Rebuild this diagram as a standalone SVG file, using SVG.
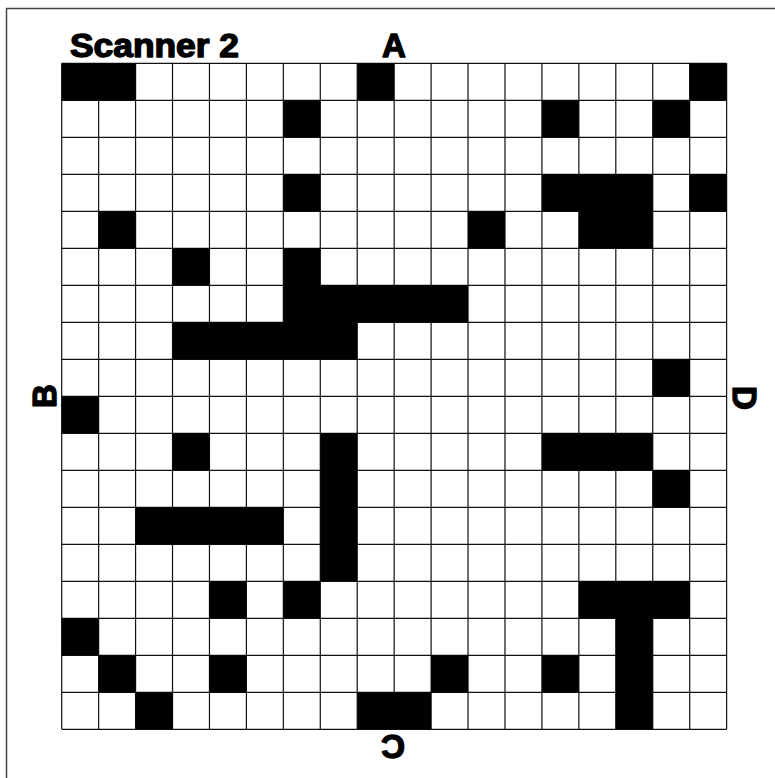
<svg xmlns="http://www.w3.org/2000/svg" width="775" height="778" viewBox="0 0 775 778">
<style>
.lbl{font-family:"Liberation Sans",Arial,sans-serif;font-weight:bold;font-size:33px;fill:#000;stroke:#000;stroke-width:1.4;stroke-linejoin:round}
.on{fill:#000}
.gl{stroke:#111;stroke-width:1.2;fill:none}
</style>
<rect x="0" y="0" width="775" height="778" fill="#fff"/>
<rect x="6.5" y="8.5" width="800" height="800" fill="none" stroke="#444" stroke-width="1.5"/>
<g id="title"><text class="lbl" x="70" y="57" textLength="169" lengthAdjust="spacingAndGlyphs">Scanner 2</text></g>
<g id="label-A"><text class="lbl" x="394" y="57" text-anchor="middle">A</text></g>
<g id="label-B"><text class="lbl" transform="translate(44,396) rotate(-90)" x="0" y="12" text-anchor="middle">B</text></g>
<g id="label-D"><text class="lbl" transform="translate(745,398) rotate(90)" x="0" y="12" text-anchor="middle">D</text></g>
<g id="label-C"><text class="lbl" transform="translate(393,747) rotate(180)" x="0" y="12" text-anchor="middle">C</text></g>
<g id="grid" transform="translate(61.7,63.3) scale(36.94,37)">
<path class="gl" vector-effect="non-scaling-stroke" d="M0 0V18M1 0V18M2 0V18M3 0V18M4 0V18M5 0V18M6 0V18M7 0V18M8 0V18M9 0V18M10 0V18M11 0V18M12 0V18M13 0V18M14 0V18M15 0V18M16 0V18M17 0V18M18 0V18M0 0H18M0 1H18M0 2H18M0 3H18M0 4H18M0 5H18M0 6H18M0 7H18M0 8H18M0 9H18M0 10H18M0 11H18M0 12H18M0 13H18M0 14H18M0 15H18M0 16H18M0 17H18M0 18H18"/>
<g id="cells" class="on">
<rect x="0" y="0" width="2" height="1"/><rect x="8" y="0" width="1" height="1"/><rect x="17" y="0" width="1" height="1"/>
<rect x="6" y="1" width="1" height="1"/><rect x="13" y="1" width="1" height="1"/><rect x="16" y="1" width="1" height="1"/>
<rect x="6" y="3" width="1" height="1"/><rect x="13" y="3" width="3" height="1"/><rect x="17" y="3" width="1" height="1"/>
<rect x="1" y="4" width="1" height="1"/><rect x="11" y="4" width="1" height="1"/><rect x="14" y="4" width="2" height="1"/>
<rect x="3" y="5" width="1" height="1"/><rect x="6" y="5" width="1" height="1"/>
<rect x="6" y="6" width="5" height="1"/>
<rect x="3" y="7" width="5" height="1"/>
<rect x="16" y="8" width="1" height="1"/>
<rect x="0" y="9" width="1" height="1"/>
<rect x="3" y="10" width="1" height="1"/><rect x="7" y="10" width="1" height="4"/><rect x="13" y="10" width="3" height="1"/>
<rect x="16" y="11" width="1" height="1"/>
<rect x="2" y="12" width="4" height="1"/>
<rect x="4" y="14" width="1" height="1"/><rect x="6" y="14" width="1" height="1"/><rect x="14" y="14" width="3" height="1"/>
<rect x="0" y="15" width="1" height="1"/><rect x="15" y="15" width="1" height="3"/>
<rect x="1" y="16" width="1" height="1"/><rect x="4" y="16" width="1" height="1"/><rect x="10" y="16" width="1" height="1"/><rect x="13" y="16" width="1" height="1"/>
<rect x="2" y="17" width="1" height="1"/><rect x="8" y="17" width="2" height="1"/>
</g>
</g>
</svg>
